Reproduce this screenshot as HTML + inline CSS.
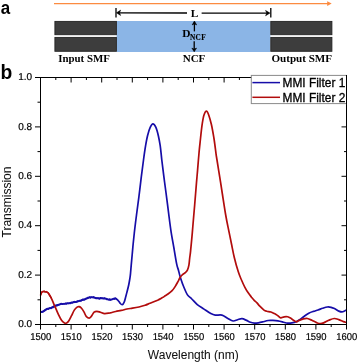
<!DOCTYPE html>
<html><head><meta charset="utf-8"><style>
html,body{margin:0;padding:0;background:#fff;}
body{width:358px;height:363px;overflow:hidden;position:relative;}
svg{position:absolute;left:0;top:0;will-change:transform;}
.sans{font-family:"Liberation Sans",sans-serif;}
.serif{font-family:"Liberation Serif",serif;}
</style></head><body>
<svg width="358" height="363" viewBox="0 0 358 363">
<!-- panel a -->
<text transform="translate(0.7,13.7) scale(0.9,1)" class="sans" font-weight="bold" font-size="18.8" fill="#000">a</text>
<line x1="54" y1="3.6" x2="328.5" y2="3.6" stroke="#FC8B40" stroke-width="1.3"/>
<path d="M327.2,1.2 L331.7,3.6 L327.2,6.0 Z" fill="#FC8B40"/>
<rect x="116.6" y="21" width="153.8" height="31" fill="#8BB5E6"/>
<g fill="#3d3d3d" stroke="#242424" stroke-width="0.9">
<rect x="54.9" y="21.4" width="61.5" height="13.3"/>
<rect x="54.9" y="37.4" width="61.5" height="13.9"/>
<rect x="270.8" y="21.4" width="61.1" height="13.3"/>
<rect x="270.8" y="37.4" width="61.1" height="13.9"/>
</g>
<g stroke="#000" stroke-width="1.3" fill="none">
<line x1="116" y1="8.1" x2="116" y2="17.6"/>
<line x1="270.8" y1="8.1" x2="270.8" y2="17.6"/>
<line x1="118" y1="12.8" x2="187" y2="13.0"/>
<line x1="201.6" y1="13.05" x2="268.5" y2="13.1"/>
<path d="M116.5,12.8 L120.6,10.2 L119.4,12.8 L120.6,15.4 Z" fill="#000" stroke-width="0.6"/>
<path d="M269.9,13.1 L265.6,10.5 L266.9,13.1 L265.6,15.7 Z" fill="#000" stroke-width="0.6"/>
<line x1="194.4" y1="23.5" x2="194.4" y2="31.4"/>
<line x1="194.2" y1="41.2" x2="194.2" y2="49.5"/>
<path d="M194.4,21.0 L196.6,24.9 L194.4,23.7 L192.2,24.9 Z" fill="#000" stroke-width="0.6"/>
<path d="M194.2,51.8 L196.5,48.1 L194.2,49.3 L191.9,48.1 Z" fill="#000" stroke-width="0.6"/>
</g>
<g class="serif" font-weight="bold" fill="#000">
<text x="190.8" y="17.3" font-size="11.4">L</text>
<text x="182.3" y="37.1" font-size="11.4">D<tspan font-size="7.3" dy="2.9" dx="-0.5" letter-spacing="0.3" stroke="#000" stroke-width="0.12">NCF</tspan></text>
<text x="58.2" y="61.8" font-size="10.9">Input SMF</text>
<text x="182.7" y="61.7" font-size="11">NCF</text>
<text x="271.4" y="61.8" font-size="11.1">Output SMF</text>
</g>
<!-- panel b -->
<text x="0.4" y="79.2" class="sans" font-weight="bold" font-size="19.3" fill="#000">b</text>
<path d="M40.5,312.2 C40.9,312.1 41.9,312.3 42.9,311.8 C43.9,311.3 45.1,310.0 46.4,309.4 C47.7,308.8 49.2,308.5 50.6,308.0 C52.0,307.5 53.4,306.8 54.8,306.2 C56.2,305.6 57.6,305.0 59.0,304.6 C60.4,304.2 61.7,304.1 63.1,303.9 C64.5,303.7 65.7,303.6 67.3,303.4 C68.9,303.2 71.0,302.9 72.9,302.5 C74.8,302.1 76.6,301.6 78.5,301.1 C80.4,300.6 82.3,300.0 84.1,299.4 C85.9,298.8 87.7,298.0 89.2,297.6 C90.8,297.2 92.0,297.2 93.4,297.3 C94.8,297.4 96.2,298.1 97.6,298.3 C99.0,298.5 100.4,298.2 101.8,298.3 C103.2,298.4 104.7,298.5 106.0,298.7 C107.3,298.9 108.2,299.6 109.4,299.7 C110.6,299.8 111.9,299.2 112.9,299.0 C114.0,298.8 114.9,298.5 115.7,298.7 C116.5,298.9 117.1,299.4 117.8,300.1 C118.5,300.8 119.2,302.1 119.9,302.9 C120.6,303.7 121.5,304.9 122.2,304.7 C122.9,304.5 123.7,303.2 124.3,301.8 C124.9,300.4 125.3,298.4 125.8,296.5 C126.3,294.6 126.8,292.6 127.3,290.7 C127.8,288.8 128.3,286.9 128.7,285.0 C129.1,283.1 129.4,281.4 129.7,279.5 C130.0,277.6 130.2,276.9 130.5,273.6 C130.8,270.3 131.3,263.9 131.7,259.8 C132.1,255.7 132.3,253.3 132.7,248.8 C133.1,244.3 133.7,238.6 134.3,233.0 C134.9,227.4 135.7,221.2 136.5,215.0 C137.3,208.8 138.2,202.4 139.0,196.0 C139.8,189.6 140.6,182.8 141.3,176.8 C142.1,170.8 142.8,165.2 143.5,160.0 C144.2,154.8 144.9,149.8 145.6,145.7 C146.3,141.6 146.8,138.6 147.6,135.5 C148.4,132.4 149.3,129.3 150.2,127.4 C151.1,125.5 151.9,123.9 152.9,123.9 C153.9,123.9 155.0,125.4 155.9,127.4 C156.8,129.4 157.7,132.9 158.4,136.0 C159.1,139.1 159.6,141.7 160.2,145.7 C160.8,149.7 161.2,154.8 161.8,160.0 C162.4,165.2 163.2,171.2 163.9,176.8 C164.6,182.4 165.2,186.8 166.1,193.5 C167.0,200.2 168.3,210.6 169.1,217.0 C169.9,223.4 170.3,226.6 171.1,231.8 C171.9,237.1 173.1,243.1 174.0,248.5 C174.9,253.9 176.0,260.6 176.7,264.2 C177.4,267.8 177.8,267.8 178.4,270.0 C179.0,272.2 179.5,274.8 180.4,277.5 C181.3,280.2 182.4,283.6 183.6,286.5 C184.8,289.4 185.9,292.5 187.3,294.6 C188.7,296.7 190.1,297.3 191.8,299.0 C193.5,300.7 195.3,302.9 197.3,304.6 C199.3,306.3 201.8,307.6 204.0,309.1 C206.2,310.6 208.9,312.6 210.8,313.6 C212.7,314.6 213.3,314.9 215.2,315.1 C217.0,315.4 219.8,314.6 221.9,315.1 C224.0,315.6 225.6,317.2 227.5,318.2 C229.4,319.2 231.4,320.8 233.1,321.0 C234.8,321.2 236.1,320.1 237.6,319.7 C239.1,319.3 240.5,318.6 242.0,318.7 C243.5,318.8 245.1,319.8 246.5,320.4 C247.9,321.0 249.2,321.9 250.5,322.3 C251.8,322.8 252.9,323.0 254.2,323.1 C255.5,323.2 257.0,323.0 258.4,322.8 C259.8,322.6 261.0,322.3 262.6,321.9 C264.2,321.5 266.6,320.8 268.2,320.5 C269.8,320.2 270.7,320.3 272.3,320.4 C273.9,320.5 276.0,320.6 277.9,320.9 C279.8,321.2 281.9,321.8 283.5,322.2 C285.1,322.6 286.3,323.0 287.7,323.1 C289.1,323.2 290.5,323.1 291.9,322.9 C293.3,322.7 294.8,322.4 296.1,321.8 C297.5,321.2 298.6,320.4 300.0,319.5 C301.4,318.6 302.7,317.2 304.2,316.2 C305.7,315.1 307.3,314.0 308.8,313.2 C310.3,312.4 311.9,311.9 313.4,311.4 C314.9,310.9 316.5,310.5 318.0,310.0 C319.5,309.5 321.1,308.8 322.6,308.3 C324.2,307.8 325.9,307.2 327.3,307.0 C328.7,306.8 329.8,307.0 331.1,307.3 C332.4,307.6 333.6,308.2 334.9,308.8 C336.2,309.4 337.6,310.6 338.8,311.1 C340.0,311.6 340.9,311.9 341.9,311.9 C342.9,311.8 344.1,311.1 344.9,310.8 C345.7,310.5 346.2,310.0 346.5,309.9" fill="none" stroke="#160da8" stroke-width="1.7" stroke-linejoin="round"/>
<path d="M40.8,311.9 L41.4,311.6 L42.0,312.2 L42.6,311.3 L43.2,311.6 L43.8,311.0 L44.4,310.2 L45.0,310.4 L45.6,309.3 L46.2,309.4 L46.8,308.7 L47.4,308.5 L48.0,308.8 L48.6,309.1 L49.2,307.9 L49.8,307.9 L50.4,308.2 L51.0,308.5 L51.6,307.7 L52.2,307.2 L52.8,307.7 L53.4,306.2 L54.0,307.0 L54.6,306.0 L55.2,305.5 L55.8,305.3 L56.4,305.3 L57.0,305.8 L57.6,304.7 L58.2,305.0 L58.8,304.9 L59.4,304.4 L60.0,304.5 L60.6,303.7 L61.2,303.6 L61.8,303.7 L62.4,304.3 L63.0,303.8 L63.6,303.6 L64.2,303.9 L64.8,303.6 L65.4,303.3 L66.0,304.0 L66.6,303.8 L67.2,303.1 L67.8,303.4 L68.4,303.3 L69.0,303.7 L69.6,303.4 L70.2,302.6 L70.8,303.5 L71.4,302.2 L72.0,302.5 L72.6,302.9 L73.2,301.9 L73.8,302.3 L74.4,301.5 L75.0,302.2 L75.6,302.2 L76.2,301.8 L76.8,302.1 L77.4,301.1 L78.0,301.5 L78.6,301.2 L79.2,301.0 L79.8,300.6 L80.4,301.0 L81.0,301.0 L81.6,300.1 L82.2,300.2 L82.8,299.2 L83.4,299.9 L84.0,299.6 L84.6,299.9 L85.2,299.5 L85.8,298.5 L86.4,298.4 L87.0,298.6 L87.6,297.5 L88.2,297.9 L88.8,297.3 L89.4,297.0 L90.0,296.9 L90.6,297.9 L91.2,296.9 L91.8,297.1 L92.4,297.2 L93.0,297.8 L93.6,296.8 L94.2,297.4 L94.8,297.7 L95.4,298.3 L96.0,298.4 L96.6,298.6 L97.2,297.9 L97.8,298.2 L98.4,298.1 L99.0,298.8 L99.6,298.9 L100.2,297.8 L100.8,297.8 L101.4,297.9 L102.0,297.9 L102.6,298.4 L103.2,298.6 L103.8,298.2 L104.4,297.9 L105.0,298.5 L105.6,298.5 L106.2,298.9 L106.8,299.6 L107.4,299.4 L108.0,299.3 L108.6,299.6 L109.2,299.9 L109.8,299.0 L110.4,300.1 L111.0,299.8 L111.6,299.8 L112.2,299.6 L112.8,298.9 L113.4,298.8 L114.0,298.3 L114.6,299.0 L115.2,298.1 L115.8,298.2 L116.4,298.8 L117.0,299.1" fill="none" stroke="#160da8" stroke-width="1.5" stroke-linejoin="round"/>
<path d="M40.5,295.5 C40.7,295.0 41.1,293.3 41.5,292.7 C41.9,292.1 42.2,291.9 42.9,291.7 C43.6,291.5 44.9,291.5 45.7,291.7 C46.5,291.9 47.1,292.1 47.8,292.7 C48.5,293.3 49.2,294.3 49.9,295.5 C50.6,296.7 51.3,298.2 52.0,299.7 C52.7,301.2 53.4,303.0 54.1,304.6 C54.8,306.2 55.4,307.5 56.2,309.4 C57.0,311.2 58.1,313.8 59.0,315.7 C59.9,317.6 60.8,319.4 61.7,320.6 C62.6,321.8 63.7,322.6 64.5,323.0 C65.3,323.4 65.9,323.3 66.6,323.0 C67.3,322.7 67.9,322.2 68.7,321.0 C69.5,319.8 70.6,317.5 71.5,315.7 C72.4,313.9 73.4,311.5 74.3,310.1 C75.2,308.7 76.3,307.7 77.1,307.1 C77.9,306.5 78.5,306.5 79.2,306.6 C79.9,306.8 80.5,307.1 81.3,308.0 C82.1,308.9 83.3,310.8 84.1,312.2 C84.9,313.6 85.3,315.4 86.2,316.4 C87.1,317.4 88.4,318.2 89.2,318.2 C90.0,318.2 90.5,317.4 91.3,316.4 C92.1,315.4 93.2,313.0 94.1,312.2 C95.0,311.4 95.9,311.3 96.9,311.3 C98.0,311.3 99.1,311.8 100.4,312.2 C101.7,312.6 103.0,313.5 104.6,313.6 C106.2,313.7 108.2,313.2 110.1,312.9 C111.9,312.5 113.8,311.9 115.7,311.5 C117.6,311.1 119.4,310.8 121.3,310.4 C123.2,310.0 125.0,309.4 126.9,309.0 C128.8,308.6 130.5,308.5 132.5,308.2 C134.5,307.9 136.9,307.5 139.0,307.0 C141.1,306.5 143.3,305.8 145.2,305.2 C147.0,304.6 148.0,304.1 150.1,303.3 C152.2,302.5 155.5,301.1 157.6,300.2 C159.7,299.2 161.2,298.3 162.5,297.6 C163.8,296.9 164.3,296.4 165.2,295.8 C166.1,295.2 166.8,294.9 168.0,294.0 C169.2,293.1 170.9,291.8 172.1,290.6 C173.3,289.4 174.1,288.2 175.1,286.6 C176.1,285.0 177.3,282.8 178.2,281.2 C179.0,279.6 179.4,278.3 180.2,277.2 C181.0,276.1 182.0,275.1 182.8,274.4 C183.7,273.6 184.5,273.4 185.3,272.7 C186.1,272.0 186.8,271.5 187.4,270.2 C188.0,268.9 188.5,267.1 188.9,265.1 C189.3,263.1 189.4,260.4 189.7,258.0 C190.0,255.6 190.2,255.0 190.6,250.8 C191.0,246.6 191.8,238.9 192.3,232.9 C192.8,226.9 193.2,221.6 193.8,215.0 C194.4,208.4 195.1,199.9 195.6,193.5 C196.1,187.1 196.5,182.4 197.0,176.8 C197.5,171.2 198.1,164.1 198.4,160.0 C198.8,155.9 198.8,155.6 199.1,152.0 C199.4,148.4 200.0,143.3 200.5,138.5 C201.0,133.7 201.7,127.3 202.3,123.4 C202.9,119.5 203.3,117.0 204.0,115.0 C204.7,113.0 205.6,111.2 206.4,111.2 C207.2,111.2 207.9,112.8 208.7,115.0 C209.5,117.2 210.5,120.7 211.4,124.5 C212.3,128.3 213.1,133.2 213.9,138.0 C214.7,142.8 215.5,149.9 216.0,153.6 C216.5,157.3 216.4,156.1 217.0,160.0 C217.6,163.9 218.8,171.2 219.7,176.8 C220.6,182.4 221.3,187.1 222.3,193.5 C223.3,199.9 224.7,209.2 225.7,215.0 C226.7,220.8 227.3,223.6 228.3,228.4 C229.3,233.2 230.5,239.2 231.5,244.0 C232.5,248.8 233.2,252.9 234.3,257.5 C235.4,262.1 237.1,268.1 238.3,271.8 C239.5,275.6 240.4,277.4 241.5,280.0 C242.6,282.6 243.8,285.2 244.9,287.3 C246.0,289.4 247.1,291.2 248.2,292.8 C249.3,294.4 250.5,295.9 251.5,297.2 C252.5,298.4 253.3,299.4 254.2,300.3 C255.1,301.2 256.1,301.9 257.0,302.9 C257.9,303.9 258.6,305.0 259.8,306.2 C261.0,307.4 262.8,309.2 264.0,310.1 C265.2,311.0 265.7,311.0 266.8,311.3 C267.9,311.6 269.6,311.6 270.9,312.0 C272.2,312.4 273.2,313.0 274.4,313.6 C275.6,314.2 276.8,315.0 277.9,315.7 C278.9,316.4 279.6,317.6 280.7,317.8 C281.8,318.0 283.0,317.0 284.2,316.8 C285.4,316.6 286.5,316.5 287.7,316.8 C288.9,317.1 290.1,317.9 291.2,318.5 C292.2,319.1 293.1,320.1 294.0,320.6 C294.9,321.2 295.7,321.8 296.5,321.8 C297.3,321.8 297.6,321.1 298.6,320.6 C299.6,320.2 301.2,319.5 302.7,319.1 C304.1,318.8 305.8,318.3 307.3,318.5 C308.8,318.7 310.4,319.6 311.9,320.3 C313.4,321.0 315.1,322.0 316.5,322.6 C317.9,323.2 319.0,323.7 320.3,323.7 C321.6,323.7 322.8,323.2 324.2,322.6 C325.6,322.0 327.1,321.0 328.8,320.3 C330.5,319.6 332.5,318.6 334.2,318.5 C335.9,318.4 337.3,319.1 338.8,319.6 C340.3,320.1 342.1,321.1 343.4,321.6 C344.7,322.1 346.0,322.4 346.5,322.6" fill="none" stroke="#b20c0c" stroke-width="1.7" stroke-linejoin="round"/>
<path d="M40.8,294.5 L41.4,292.4 L42.0,291.7 L42.6,291.5 L43.2,291.2 L43.8,291.5 L44.4,291.1 L45.0,292.1 L45.6,291.8 L46.2,291.5 L46.8,291.9 L47.4,292.3 L48.0,292.8 L48.6,293.3 L49.2,295.0 L49.8,296.0 L50.4,296.5 L51.0,297.7 L51.6,298.4" fill="none" stroke="#b20c0c" stroke-width="1.3" stroke-linejoin="round"/>
<g stroke="#000" stroke-width="1" fill="none">
<rect x="40.50" y="77.50" width="306.00" height="247.00"/>
<line x1="40.50" y1="324.50" x2="40.50" y2="329.50"/>
<line x1="55.80" y1="324.50" x2="55.80" y2="327.00"/>
<line x1="55.80" y1="77.50" x2="55.80" y2="80.00"/>
<line x1="71.10" y1="324.50" x2="71.10" y2="329.50"/>
<line x1="71.10" y1="77.50" x2="71.10" y2="82.50"/>
<line x1="86.40" y1="324.50" x2="86.40" y2="327.00"/>
<line x1="86.40" y1="77.50" x2="86.40" y2="80.00"/>
<line x1="101.70" y1="324.50" x2="101.70" y2="329.50"/>
<line x1="101.70" y1="77.50" x2="101.70" y2="82.50"/>
<line x1="117.00" y1="324.50" x2="117.00" y2="327.00"/>
<line x1="117.00" y1="77.50" x2="117.00" y2="80.00"/>
<line x1="132.30" y1="324.50" x2="132.30" y2="329.50"/>
<line x1="132.30" y1="77.50" x2="132.30" y2="82.50"/>
<line x1="147.60" y1="324.50" x2="147.60" y2="327.00"/>
<line x1="147.60" y1="77.50" x2="147.60" y2="80.00"/>
<line x1="162.90" y1="324.50" x2="162.90" y2="329.50"/>
<line x1="162.90" y1="77.50" x2="162.90" y2="82.50"/>
<line x1="178.20" y1="324.50" x2="178.20" y2="327.00"/>
<line x1="178.20" y1="77.50" x2="178.20" y2="80.00"/>
<line x1="193.50" y1="324.50" x2="193.50" y2="329.50"/>
<line x1="193.50" y1="77.50" x2="193.50" y2="82.50"/>
<line x1="208.80" y1="324.50" x2="208.80" y2="327.00"/>
<line x1="208.80" y1="77.50" x2="208.80" y2="80.00"/>
<line x1="224.10" y1="324.50" x2="224.10" y2="329.50"/>
<line x1="224.10" y1="77.50" x2="224.10" y2="82.50"/>
<line x1="239.40" y1="324.50" x2="239.40" y2="327.00"/>
<line x1="239.40" y1="77.50" x2="239.40" y2="80.00"/>
<line x1="254.70" y1="324.50" x2="254.70" y2="329.50"/>
<line x1="254.70" y1="77.50" x2="254.70" y2="82.50"/>
<line x1="270.00" y1="324.50" x2="270.00" y2="327.00"/>
<line x1="270.00" y1="77.50" x2="270.00" y2="80.00"/>
<line x1="285.30" y1="324.50" x2="285.30" y2="329.50"/>
<line x1="285.30" y1="77.50" x2="285.30" y2="82.50"/>
<line x1="300.60" y1="324.50" x2="300.60" y2="327.00"/>
<line x1="300.60" y1="77.50" x2="300.60" y2="80.00"/>
<line x1="315.90" y1="324.50" x2="315.90" y2="329.50"/>
<line x1="315.90" y1="77.50" x2="315.90" y2="82.50"/>
<line x1="331.20" y1="324.50" x2="331.20" y2="327.00"/>
<line x1="331.20" y1="77.50" x2="331.20" y2="80.00"/>
<line x1="346.50" y1="324.50" x2="346.50" y2="329.50"/>
<line x1="35.00" y1="324.50" x2="40.50" y2="324.50"/>
<line x1="37.50" y1="299.80" x2="40.50" y2="299.80"/>
<line x1="344.00" y1="299.80" x2="346.50" y2="299.80"/>
<line x1="35.00" y1="275.10" x2="40.50" y2="275.10"/>
<line x1="341.50" y1="275.10" x2="346.50" y2="275.10"/>
<line x1="37.50" y1="250.40" x2="40.50" y2="250.40"/>
<line x1="344.00" y1="250.40" x2="346.50" y2="250.40"/>
<line x1="35.00" y1="225.70" x2="40.50" y2="225.70"/>
<line x1="341.50" y1="225.70" x2="346.50" y2="225.70"/>
<line x1="37.50" y1="201.00" x2="40.50" y2="201.00"/>
<line x1="344.00" y1="201.00" x2="346.50" y2="201.00"/>
<line x1="35.00" y1="176.30" x2="40.50" y2="176.30"/>
<line x1="341.50" y1="176.30" x2="346.50" y2="176.30"/>
<line x1="37.50" y1="151.60" x2="40.50" y2="151.60"/>
<line x1="344.00" y1="151.60" x2="346.50" y2="151.60"/>
<line x1="35.00" y1="126.90" x2="40.50" y2="126.90"/>
<line x1="341.50" y1="126.90" x2="346.50" y2="126.90"/>
<line x1="37.50" y1="102.20" x2="40.50" y2="102.20"/>
<line x1="344.00" y1="102.20" x2="346.50" y2="102.20"/>
<line x1="35.00" y1="77.50" x2="40.50" y2="77.50"/>
</g>
<g class="sans" font-size="10" fill="#000" stroke="#000" stroke-width="0.2" text-rendering="geometricPrecision">
<text x="32.2" y="327" text-anchor="end">0.0</text>
<text x="32.2" y="278" text-anchor="end">0.2</text>
<text x="32.2" y="228" text-anchor="end">0.4</text>
<text x="32.2" y="179" text-anchor="end">0.6</text>
<text x="32.2" y="130" text-anchor="end">0.8</text>
<text x="32.2" y="80" text-anchor="end">1.0</text>
<text transform="translate(40.70,340) scale(0.94,1)" text-anchor="middle">1500</text>
<text transform="translate(71.30,340) scale(0.94,1)" text-anchor="middle">1510</text>
<text transform="translate(101.90,340) scale(0.94,1)" text-anchor="middle">1520</text>
<text transform="translate(132.50,340) scale(0.94,1)" text-anchor="middle">1530</text>
<text transform="translate(163.10,340) scale(0.94,1)" text-anchor="middle">1540</text>
<text transform="translate(193.70,340) scale(0.94,1)" text-anchor="middle">1550</text>
<text transform="translate(224.30,340) scale(0.94,1)" text-anchor="middle">1560</text>
<text transform="translate(254.90,340) scale(0.94,1)" text-anchor="middle">1570</text>
<text transform="translate(285.50,340) scale(0.94,1)" text-anchor="middle">1580</text>
<text transform="translate(316.10,340) scale(0.94,1)" text-anchor="middle">1590</text>
<text transform="translate(346.70,340) scale(0.94,1)" text-anchor="middle">1600</text>
</g>
<text class="sans" font-size="12" fill="#111" stroke="#111" stroke-width="0.05" transform="translate(10.6,202) rotate(-90)" text-anchor="middle">Transmission</text>
<text class="sans" font-size="12" fill="#111" stroke="#111" stroke-width="0.05" x="193.3" y="358.5" text-anchor="middle">Wavelength (nm)</text>
<!-- legend -->
<rect x="251.3" y="75.4" width="95.2" height="28.2" fill="#fff" stroke="#8a8a8a" stroke-width="1"/>
<line x1="346.5" y1="75" x2="346.5" y2="104" stroke="#000" stroke-width="1"/>
<line x1="252.4" y1="82.6" x2="280" y2="82.6" stroke="#160da8" stroke-width="1.5"/>
<line x1="252.4" y1="97.3" x2="280" y2="97.3" stroke="#b20c0c" stroke-width="1.5"/>
<g class="sans" font-size="11.9" fill="#000" stroke="#000" stroke-width="0.3">
<text x="282.5" y="86.7">MMI Filter 1</text>
<text x="282.5" y="101.6">MMI Filter 2</text>
</g>
</svg>
</body></html>
